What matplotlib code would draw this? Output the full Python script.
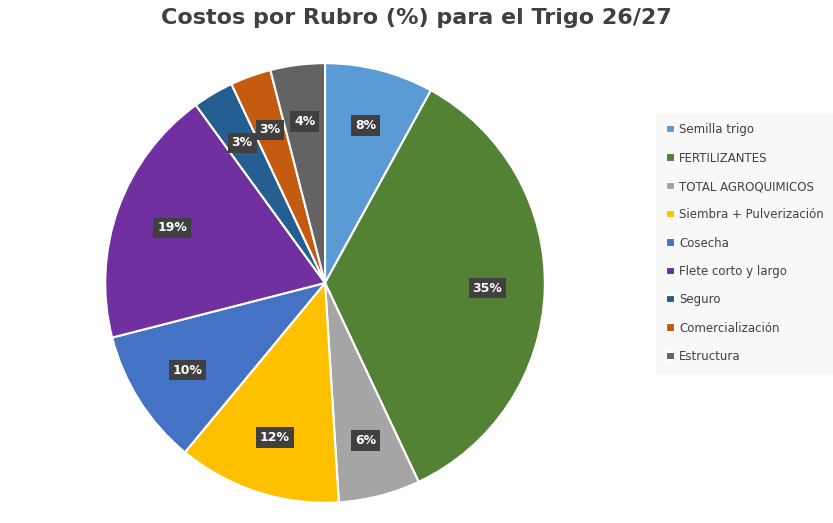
import matplotlib
matplotlib.use("Agg")
import matplotlib.pyplot as plt

categories = ["Semilla trigo", "FERTILIZANTES", "TOTAL AGROQUIMICOS", "Siembra + Pulverización",
              "Cosecha", "Flete corto y largo", "Seguro", "Comercialización", "Estructura"]
values = [8, 35, 6, 12, 10, 19, 3, 3, 4]
colors = ["#5B9BD5", "#548235", "#A5A5A5", "#FFC000", "#4472C4", "#7030A0", "#255E91", "#C55A11", "#636363"]

fig = plt.figure(figsize=(8.33, 5.23), dpi=100)
ax = fig.add_axes([0.1237, 0.0345, 0.533, 0.849])
wedges, texts, autotexts = ax.pie(values, colors=colors, startangle=90, counterclock=False,
                                  autopct="%1.0f%%", pctdistance=0.74,
                                  wedgeprops=dict(edgecolor="white", linewidth=1.5))
for t in autotexts:
    t.set_color("white")
    t.set_fontweight("bold")
    t.set_fontsize(9)
    t.set_bbox(dict(facecolor="#404040", edgecolor="none", boxstyle="square,pad=0.3"))
ax.set_xlim(-1.01, 1.01)
ax.set_ylim(-1.01, 1.01)
ax.set_aspect("equal")

fig.suptitle("Costos por Rubro (%) para el Trigo 26/27", x=0.5, y=0.985,
             fontsize=16, fontweight="bold", color="#404040")
leg = fig.legend(wedges, categories, loc="center left", bbox_to_anchor=(0.78, 0.535),
                 frameon=True, fontsize=8.5, handlelength=0.7, handleheight=0.7,
                 labelspacing=1.3, borderpad=0.9, handletextpad=0.4)
leg.get_frame().set_facecolor("#F7F7F7")
leg.get_frame().set_edgecolor("none")
for t in leg.get_texts():
    t.set_color("#404040")
fig.savefig("out.png", dpi=100)
